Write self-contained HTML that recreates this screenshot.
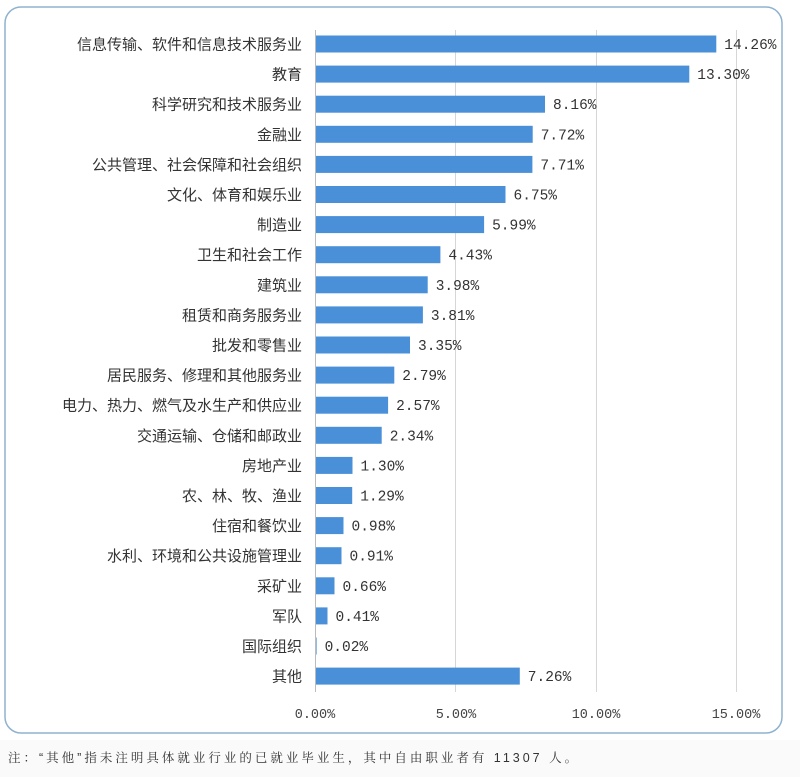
<!DOCTYPE html>
<html><head><meta charset="utf-8"><style>
body{margin:0;background:#fff;}
svg{display:block}
.l{font-family:"Liberation Sans","Noto Sans CJK SC",sans-serif;font-size:15px;fill:#333;text-anchor:end}
.v{font-family:"Liberation Mono","Noto Sans CJK SC",monospace;font-size:14.5px;fill:#333}
.a{font-family:"Liberation Mono",monospace;font-size:13.5px;fill:#444;text-anchor:middle}
.b{fill:#4a90d9}
</style></head><body>
<svg width="800" height="777" viewBox="0 0 800 777" xmlns="http://www.w3.org/2000/svg">
<rect x="0" y="740" width="800" height="37" fill="#fafafa"/>
<rect x="5" y="7" width="777" height="726" rx="16" fill="#fff" stroke="#8fb2cf" stroke-width="1.5"/>
<g stroke="#d6d6d6" stroke-width="1">
<line x1="455.5" y1="30" x2="455.5" y2="692"/>
<line x1="596.5" y1="30" x2="596.5" y2="692"/>
<line x1="736.5" y1="30" x2="736.5" y2="692"/>
<line x1="315.5" y1="30" x2="315.5" y2="692" stroke="#bbb"/>
</g>
<rect class="b" x="316" y="35.5" width="400.3" height="17"/>
<rect class="b" x="316" y="65.6" width="373.3" height="17"/>
<rect class="b" x="316" y="95.7" width="229" height="17"/>
<rect class="b" x="316" y="125.8" width="216.7" height="17"/>
<rect class="b" x="316" y="155.9" width="216.4" height="17"/>
<rect class="b" x="316" y="186" width="189.5" height="17"/>
<rect class="b" x="316" y="216.1" width="168.1" height="17"/>
<rect class="b" x="316" y="246.2" width="124.4" height="17"/>
<rect class="b" x="316" y="276.3" width="111.7" height="17"/>
<rect class="b" x="316" y="306.4" width="106.9" height="17"/>
<rect class="b" x="316" y="336.5" width="94" height="17"/>
<rect class="b" x="316" y="366.6" width="78.3" height="17"/>
<rect class="b" x="316" y="396.7" width="72.1" height="17"/>
<rect class="b" x="316" y="426.8" width="65.7" height="17"/>
<rect class="b" x="316" y="456.9" width="36.5" height="17"/>
<rect class="b" x="316" y="487" width="36.2" height="17"/>
<rect class="b" x="316" y="517.1" width="27.5" height="17"/>
<rect class="b" x="316" y="547.2" width="25.5" height="17"/>
<rect class="b" x="316" y="577.3" width="18.5" height="17"/>
<rect class="b" x="316" y="607.4" width="11.5" height="17"/>
<rect class="b" x="316" y="637.5" width="0.6" height="17"/>
<rect class="b" x="316" y="667.6" width="203.8" height="17"/>

<text class="l" x="302" y="49.5">信息传输、软件和信息技术服务业</text>
<text class="l" x="302" y="79.6">教育</text>
<text class="l" x="302" y="109.7">科学研究和技术服务业</text>
<text class="l" x="302" y="139.8">金融业</text>
<text class="l" x="302" y="169.9">公共管理、社会保障和社会组织</text>
<text class="l" x="302" y="200">文化、体育和娱乐业</text>
<text class="l" x="302" y="230.1">制造业</text>
<text class="l" x="302" y="260.2">卫生和社会工作</text>
<text class="l" x="302" y="290.3">建筑业</text>
<text class="l" x="302" y="320.4">租赁和商务服务业</text>
<text class="l" x="302" y="350.5">批发和零售业</text>
<text class="l" x="302" y="380.6">居民服务、修理和其他服务业</text>
<text class="l" x="302" y="410.7">电力、热力、燃气及水生产和供应业</text>
<text class="l" x="302" y="440.8">交通运输、仓储和邮政业</text>
<text class="l" x="302" y="470.9">房地产业</text>
<text class="l" x="302" y="501">农、林、牧、渔业</text>
<text class="l" x="302" y="531.1">住宿和餐饮业</text>
<text class="l" x="302" y="561.2">水利、环境和公共设施管理业</text>
<text class="l" x="302" y="591.3">采矿业</text>
<text class="l" x="302" y="621.4">军队</text>
<text class="l" x="302" y="651.5">国际组织</text>
<text class="l" x="302" y="681.6">其他</text>

<text class="v" x="724.3" y="49">14.26%</text>
<text class="v" x="697.3" y="79.1">13.30%</text>
<text class="v" x="553" y="109.2">8.16%</text>
<text class="v" x="540.7" y="139.3">7.72%</text>
<text class="v" x="540.4" y="169.4">7.71%</text>
<text class="v" x="513.5" y="199.5">6.75%</text>
<text class="v" x="492.1" y="229.6">5.99%</text>
<text class="v" x="448.4" y="259.7">4.43%</text>
<text class="v" x="435.7" y="289.8">3.98%</text>
<text class="v" x="430.9" y="319.9">3.81%</text>
<text class="v" x="418" y="350">3.35%</text>
<text class="v" x="402.3" y="380.1">2.79%</text>
<text class="v" x="396.1" y="410.2">2.57%</text>
<text class="v" x="389.7" y="440.3">2.34%</text>
<text class="v" x="360.5" y="470.4">1.30%</text>
<text class="v" x="360.2" y="500.5">1.29%</text>
<text class="v" x="351.5" y="530.6">0.98%</text>
<text class="v" x="349.5" y="560.7">0.91%</text>
<text class="v" x="342.5" y="590.8">0.66%</text>
<text class="v" x="335.5" y="620.9">0.41%</text>
<text class="v" x="324.6" y="651">0.02%</text>
<text class="v" x="527.8" y="681.1">7.26%</text>

<text class="a" x="315" y="718">0.00%</text>
<text class="a" x="456" y="718">5.00%</text>
<text class="a" x="596" y="718">10.00%</text>
<text class="a" x="736" y="718">15.00%</text>
<text x="8" y="762" style="font-family:'Liberation Sans','Noto Serif CJK SC',serif;font-size:12.5px;fill:#333;letter-spacing:3px">注：“其他”指未注明具体就业行业的已就业毕业生，其中自由职业者有 11307 人。</text>
</svg>
</body></html>
